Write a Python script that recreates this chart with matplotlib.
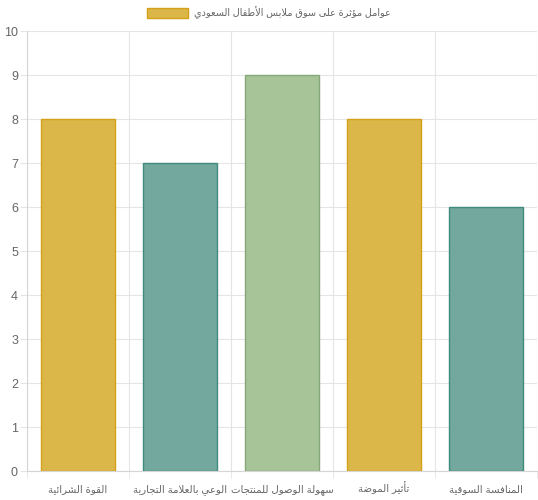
#!/usr/bin/python3
# Bar chart: factors affecting the Saudi children's clothing market

# LIBRARIES
import numpy as np
import matplotlib
matplotlib.use("Agg")
import matplotlib.pyplot as plt
from matplotlib.patches import Patch

# DATA
categories = ["القوة الشرائية", "الوعي بالعلامة التجارية", "سهولة الوصول للمنتجات",
              "تأثير الموضة", "المنافسة السوقية"]
values = [8, 7, 9, 8, 6]
series_label = "عوامل مؤثرة على سوق ملابس الأطفال السعودي"
fill_colors = ["#DBB74A", "#72A89E", "#A6C498", "#DBB74A", "#72A89E"]
edge_colors = ["#D4A017", "#3F8C7E", "#86A878", "#D4A017", "#3F8C7E"]
y_ticks = list(range(0, 11))

# ARABIC SHAPING (matplotlib does no contextual shaping on its own)
FOUR = {"ئ": 0xFE89, "ب": 0xFE8F, "ت": 0xFE95, "ث": 0xFE99, "ج": 0xFE9D, "ح": 0xFEA1,
        "خ": 0xFEA5, "س": 0xFEB1, "ش": 0xFEB5, "ص": 0xFEB9, "ض": 0xFEBD, "ط": 0xFEC1,
        "ظ": 0xFEC5, "ع": 0xFEC9, "غ": 0xFECD, "ف": 0xFED1, "ق": 0xFED5, "ك": 0xFED9,
        "ل": 0xFEDD, "م": 0xFEE1, "ن": 0xFEE5, "ه": 0xFEE9, "ي": 0xFEF1}
TWO = {"آ": 0xFE81, "أ": 0xFE83, "ؤ": 0xFE85, "إ": 0xFE87, "ا": 0xFE8D, "ة": 0xFE93,
       "د": 0xFEA9, "ذ": 0xFEAB, "ر": 0xFEAD, "ز": 0xFEAF, "و": 0xFEED, "ى": 0xFEEF}
LAM_ALEF = {"آ": 0xFEF5, "أ": 0xFEF7, "إ": 0xFEF9, "ا": 0xFEFB}


def shape(text):
    tokens = []
    i = 0
    while i < len(text):
        c = text[i]
        if c == "ل" and i + 1 < len(text) and text[i + 1] in LAM_ALEF:
            tokens.append((LAM_ALEF[text[i + 1]], 2))
            i += 2
            continue
        if c in FOUR:
            tokens.append((FOUR[c], 4))
        elif c in TWO:
            tokens.append((TWO[c], 2))
        elif c == "ء":
            tokens.append((0xFE80, 1))
        else:
            tokens.append((c, 0))
        i += 1
    out = []
    for k, (s, n) in enumerate(tokens):
        if n == 0:
            out.append(s)
            continue
        prev = tokens[k - 1] if k > 0 else None
        nxt = tokens[k + 1] if k + 1 < len(tokens) else None
        jp = n >= 2 and prev is not None and prev[1] == 4
        jn = n == 4 and nxt is not None and nxt[1] >= 2
        if n == 1:
            out.append(chr(s))
        elif n == 2:
            out.append(chr(s + 1) if jp else chr(s))
        else:
            out.append(chr(s + (3 if jp and jn else 1 if jp else 2 if jn else 0)))
    return "".join(out)[::-1]


# PLOT
plt.rcParams["font.family"] = ["Liberation Sans", "DejaVu Sans"]
grid_c = "#E5E5E5"
text_c = "#666666"

fig = plt.figure(figsize=(5.38, 5.0), dpi=100)
ax = fig.add_axes([27 / 538, 29 / 500, 510 / 538, 440 / 500])

x = np.arange(len(categories))
ax.bar(x, values, width=0.72, color=fill_colors, edgecolor=edge_colors,
       linewidth=1.0, zorder=3)

ax.set_xlim(-0.5, len(categories) - 0.5)
ax.set_ylim(0, 10)
ax.set_yticks(y_ticks)
ax.set_yticklabels([str(t) for t in y_ticks], fontsize=9, color=text_c)
ax.set_xticks(x)
ax.set_xticklabels([shape(c) for c in categories], fontsize=7.3, color=text_c,
                   va="baseline")
ax.set_xticks(np.arange(-0.5, len(categories)), minor=True)

ax.tick_params(axis="y", length=5, color=grid_c, pad=1.5)
ax.tick_params(axis="x", which="major", length=0, pad=15.5)
ax.tick_params(axis="x", which="minor", length=5, color=grid_c)
ax.grid(axis="y", color=grid_c, linewidth=0.8, zorder=0)
ax.grid(axis="x", which="minor", color=grid_c, linewidth=0.8, zorder=0)
for side in ["top", "right"]:
    ax.spines[side].set_visible(False)
for side in ["left", "bottom"]:
    ax.spines[side].set_color("#D5D5D5")
    ax.spines[side].set_linewidth(0.8)

handle = Patch(facecolor=fill_colors[0], edgecolor=edge_colors[0], linewidth=1.0)
ax.legend([handle], [shape(series_label)], loc="upper center",
          bbox_to_anchor=(0.5, 1.005), bbox_transform=fig.transFigure,
          frameon=False, fontsize=7, labelcolor=text_c,
          handlelength=4.2, handleheight=1.25, handletextpad=0.6)

fig.savefig("out.png", dpi=100)
